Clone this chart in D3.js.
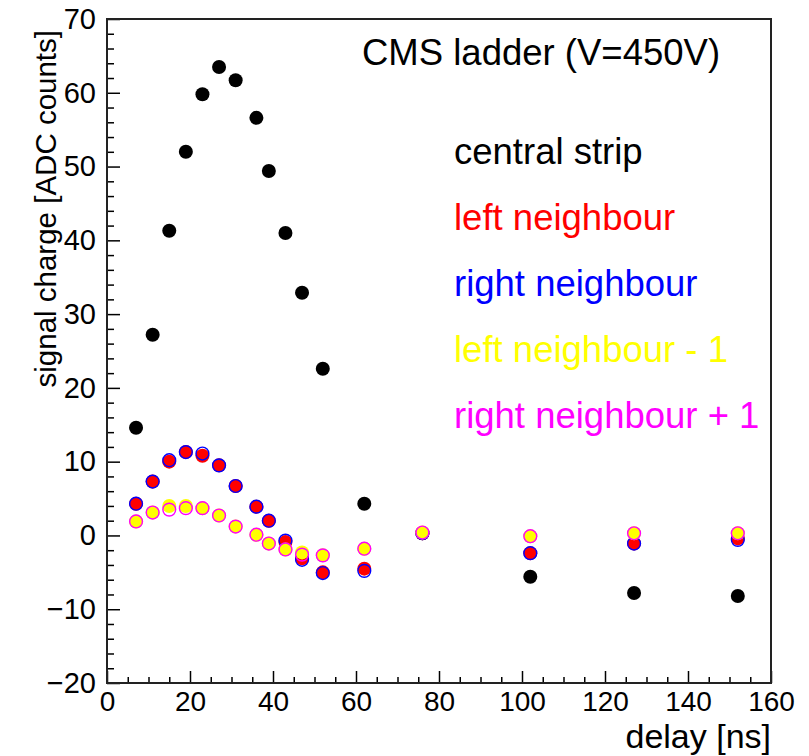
<!DOCTYPE html>
<html>
<head>
<meta charset="utf-8">
<script src="https://cdn.jsdelivr.net/npm/d3@7"></script>
<style>
  body { margin: 0; background: #fff; }
  text { font-family: "Liberation Sans", Arial, Helvetica, sans-serif; }
</style>
</head>
<body>
<div id="chartDiv"></div>
<script>
// delay values [ns]
const delays = [7, 11, 15, 19, 23, 27, 31, 36, 39, 43, 47, 52, 62, 76, 102, 127, 152];
// signal charge [ADC counts] per strip
const centralStrip = [14.6, 27.2, 41.3, 52.0, 59.8, 63.5, 61.7, 56.6, 49.4, 41.0, 32.9, 22.6, 4.3, 0.3, -5.6, -7.8, -8.2];
const leftNeighbour = [4.3, 7.3, 10.0, 11.3, 10.8, 9.5, 6.7, 3.9, 2.0, -0.9, -3.1, -5.0, -4.5, 0.3, -2.4, -1.1, -0.4];
const rightNeighbour = [4.3, 7.3, 10.2, 11.3, 11.1, 9.5, 6.7, 3.9, 2.0, -0.7, -3.3, -5.1, -4.8, 0.3, -2.4, -1.1, -0.6];
const leftNeighbourM1 = [1.9, 3.1, 4.0, 4.0, 3.7, 2.7, 1.2, 0.1, -1.1, -1.9, -2.3, -2.7, -1.8, 0.4, -0.1, 0.3, 0.3];
const rightNeighbourP1 = [1.9, 3.1, 3.5, 3.7, 3.7, 2.7, 1.2, 0.1, -1.1, -1.9, -2.6, -2.7, -1.8, 0.4, -0.1, 0.3, 0.3];

const xTicks = [0, 20, 40, 60, 80, 100, 120, 140, 160];
const yTicks = [-20, -10, 0, 10, 20, 30, 40, 50, 60, 70];
const legendLabels = ["central strip", "left neighbour", "right neighbour", "left neighbour - 1", "right neighbour + 1"];

const w = 809;
const h = 756;
const padL = 107, padR = 771, padT = 19, padB = 683;

const svg = d3.select("#chartDiv")
              .append("svg")
              .attr("width", w)
              .attr("height", h);

svg.append("rect").attr("width", w).attr("height", h).attr("fill", "#fff");

const xScale = d3.scaleLinear().domain([0, 160]).range([padL, padR]);
const yScale = d3.scaleLinear().domain([-20, 70]).range([padB, padT]);

// axes, ticks point inside the frame like ROOT does
const xMinor = d3.range(0, 161, 5).filter(v => v % 20 !== 0);
const yMinor = d3.range(-20, 71, 2).filter(v => v % 10 !== 0);

svg.append("g")
   .attr("transform", `translate(0, ${padB})`)
   .call(d3.axisBottom(xScale).tickValues(xMinor).tickSize(-6).tickFormat(""))
   .call(g => g.select(".domain").remove());
svg.append("g")
   .attr("transform", `translate(${padL}, 0)`)
   .call(d3.axisLeft(yScale).tickValues(yMinor).tickSize(-7).tickFormat(""))
   .call(g => g.select(".domain").remove());

const xAxis = svg.append("g")
   .attr("transform", `translate(0, ${padB})`)
   .call(d3.axisBottom(xScale).tickValues(xTicks).tickSize(-12).tickPadding(8))
   .call(g => g.select(".domain").remove());
xAxis.selectAll("text").attr("font-size", 28).attr("fill", "#000").attr("font-family", "Liberation Sans, Arial, sans-serif");

const yAxis = svg.append("g")
   .attr("transform", `translate(${padL}, 0)`)
   .call(d3.axisLeft(yScale).tickValues(yTicks).tickSize(-13).tickPadding(11))
   .call(g => g.select(".domain").remove());
yAxis.selectAll("text").attr("font-size", 29).attr("fill", "#000").attr("font-family", "Liberation Sans, Arial, sans-serif");

svg.selectAll(".tick line").attr("stroke", "#000").attr("stroke-width", 1.5);

// frame
svg.append("rect")
   .attr("x", padL).attr("y", padT)
   .attr("width", padR - padL).attr("height", padB - padT)
   .attr("fill", "none")
   .attr("stroke", "#222")
   .attr("stroke-width", 2);

// axis titles
svg.append("text")
   .attr("x", padR).attr("y", 748)
   .attr("text-anchor", "end")
   .attr("font-size", 34)
   .text("delay [ns]");

svg.append("text")
   .attr("transform", "translate(56, 30) rotate(-90)")
   .attr("text-anchor", "end")
   .attr("font-size", 29.5)
   .text("signal charge [ADC counts]");

// markers
const filled = (values, color, r) => {
   svg.append("g").selectAll("circle")
      .data(values)
      .enter()
      .append("circle")
      .attr("cx", (_d, i) => xScale(delays[i]))
      .attr("cy", d => yScale(d))
      .attr("r", r)
      .attr("fill", color);
}
const ring = (values, color) => {
   svg.append("g").selectAll("circle")
      .data(values)
      .enter()
      .append("circle")
      .attr("cx", (_d, i) => xScale(delays[i]))
      .attr("cy", d => yScale(d))
      .attr("r", 6.4)
      .attr("fill", "none")
      .attr("stroke", color)
      .attr("stroke-width", 1.4);
}

filled(centralStrip, "#000", 7);
filled(leftNeighbour, "#ff0000", 7);
ring(rightNeighbour, "#0000ff");
filled(leftNeighbourM1, "#ffff00", 7);
ring(rightNeighbourP1, "#ff00ff");

// title and legend texts
svg.append("text")
   .attr("x", 362).attr("y", 65)
   .attr("font-size", 36.5)
   .text("CMS ladder (V=450V)");

const legendColors = ["#000", "#ff0000", "#0000ff", "#ffff00", "#ff00ff"];
svg.append("g").selectAll("text")
   .data(legendLabels)
   .enter()
   .append("text")
   .attr("x", 454)
   .attr("y", (_d, i) => 164 + i * 66)
   .attr("font-size", 36.5)
   .attr("fill", (_d, i) => legendColors[i])
   .text(d => d);
</script>
</body>
</html>
